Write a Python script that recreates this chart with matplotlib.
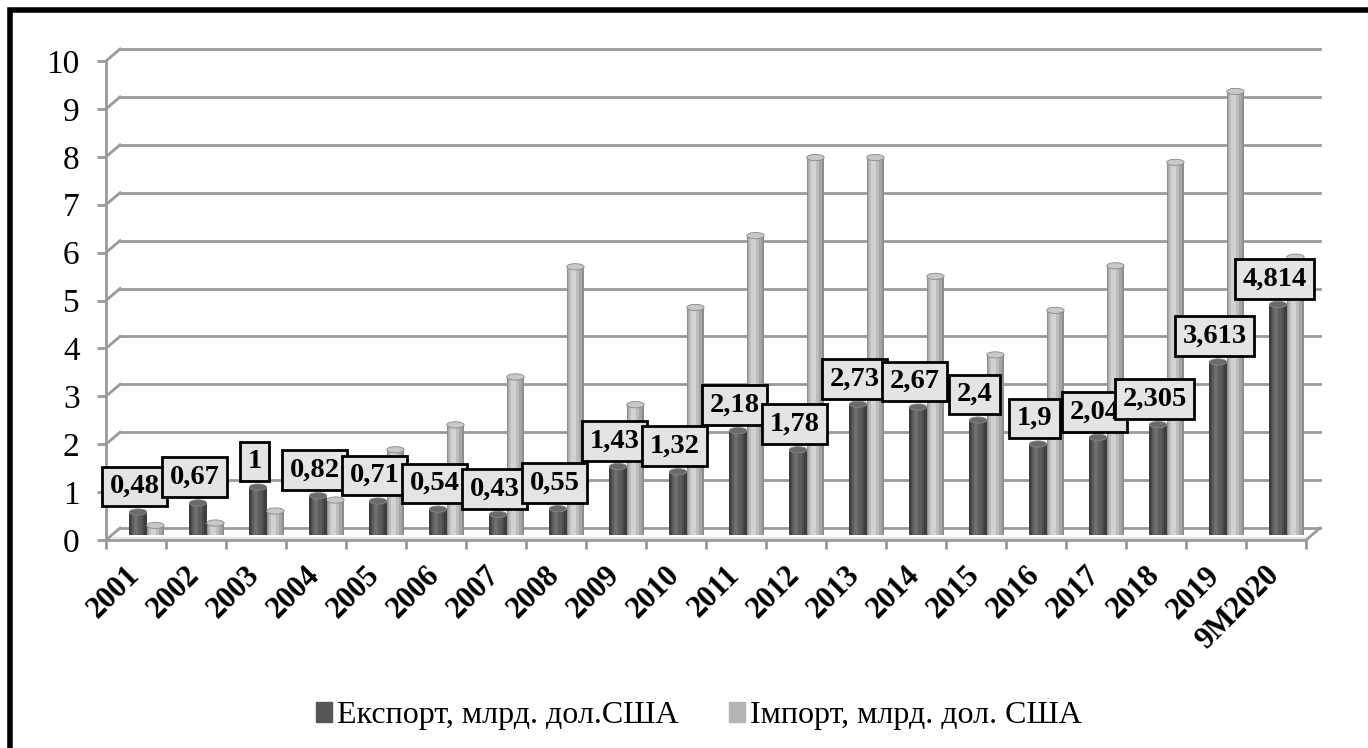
"""
Export / import chart (bln USD), 2001 - 9M2020, styled like an Excel 3D cylinder column chart.
"""
import matplotlib
matplotlib.use("Agg")
import matplotlib.pyplot as plt
import matplotlib.transforms as mtransforms
from matplotlib.patches import Patch, Ellipse, Rectangle

years = ["2001", "2002", "2003", "2004", "2005", "2006", "2007", "2008", "2009", "2010",
         "2011", "2012", "2013", "2014", "2015", "2016", "2017", "2018", "2019", "9M2020"]
export = [0.48, 0.67, 1, 0.82, 0.71, 0.54, 0.43, 0.55, 1.43, 1.32,
          2.18, 1.78, 2.73, 2.67, 2.4, 1.9, 2.04, 2.305, 3.613, 4.814]
imports = [0.2, 0.25, 0.5, 0.73, 1.78, 2.3, 3.3, 5.6, 2.72, 4.75,
           6.25, 7.88, 7.88, 5.4, 3.76, 4.69, 5.62, 7.78, 9.26, 5.8]
series_names = ["Експорт, млрд. дол.США", "Імпорт, млрд. дол. США"]

plt.rcParams["font.family"] = ["Liberation Serif", "DejaVu Serif"]

fig = plt.figure(figsize=(13.68, 7.48), dpi=100)
ax = fig.add_axes([106 / 1368, 208 / 748, 1200 / 1368, 479 / 748])
ax.set_xlim(-0.5, len(years) - 0.5)
ax.set_ylim(0, 10)

# 3D look: back wall is shifted right/up a little
ddx, ddy = 0.0117, 0.25
grid_c = "#9a9a9a"
yt = ax.get_yaxis_transform()
for y in range(0, 11):
    ax.plot([0, ddx], [y, y + ddy], color=grid_c, lw=2, transform=yt, clip_on=False)
    ax.plot([ddx, 1 + ddx], [y + ddy, y + ddy], color=grid_c, lw=2, transform=yt, clip_on=False)
ax.plot([1, 1 + ddx], [0, ddy], color=grid_c, lw=2, transform=yt, clip_on=False)
ax.fill_between([0, 1], [0, 0], [0.06, 0.06], color="#e6e6e6", transform=yt, zorder=1)

# bars as shaded cylinders, lifted to mid-depth
lift = ax.transData + mtransforms.ScaledTranslation(0.02, 0.05, fig.dpi_scale_trans)
w = 0.29
x = list(range(len(years)))
styles = [
    (export, 0.0, ["#3e3e3e", "#4b4b4b", "#5c5c5c", "#6e6e6e"], "#6a6a6a"),
    (imports, 0.29, ["#8e8e8e", "#a6a6a6", "#bdbdbd", "#d2d2d2"], "#c8c8c8"),
]
for vals, dx, shades, cap in styles:
    xs = [xi + dx for xi in x]
    for frac, col in zip([1.0, 0.8, 0.55, 0.25], shades):
        bars = ax.bar([xi - (1 - frac) * w * 0.15 for xi in xs], vals, width=w * frac,
                      color=col, linewidth=0, zorder=3)
        for p in bars:
            p.set_transform(lift)
    for xi, v in zip(xs, vals):
        e = Ellipse((xi, v), w, 0.13, facecolor=cap, edgecolor="#888888", lw=0.6,
                    zorder=4, transform=lift)
        ax.add_patch(e)

# data labels for export
for xi, v in zip(x, export):
    ax.annotate(f"{v:g}".replace(".", ","), (xi, v), xytext=(-1, 22),
                textcoords="offset points", ha="center", va="center",
                fontsize=20.5, fontweight="bold", zorder=6,
                bbox=dict(boxstyle="square,pad=0.26", fc="#e4e4e4", ec="black", lw=2))

for s in ["top", "right"]:
    ax.spines[s].set_visible(False)
for s in ["left", "bottom"]:
    ax.spines[s].set_color(grid_c)
    ax.spines[s].set_linewidth(2)

ax.set_yticks(range(0, 11))
ax.tick_params(axis="y", labelsize=24, color=grid_c, width=2, length=6.5, pad=12.5)
ax.set_xticks(x)
ax.set_xticklabels(years, rotation=45, ha="right", rotation_mode="anchor",
                   fontsize=22, fontweight="bold")
ax.tick_params(axis="x", which="major", length=0, pad=15)
ax.set_xticks([xi - 0.5 for xi in x] + [len(years) - 0.5], minor=True)
ax.tick_params(axis="x", which="minor", length=6.5, color=grid_c, width=2)
for lbl in ax.get_xticklabels():
    lbl.set_transform(lbl.get_transform() + mtransforms.ScaledTranslation(-0.11, 0, fig.dpi_scale_trans))

handles = [Patch(color="#555555"), Patch(color="#b5b5b5")]
fig.legend(handles, series_names, loc="center", bbox_to_anchor=(0.511, 1 - 716 / 748), ncol=2,
           frameon=False, fontsize=23, handlelength=0.5, handleheight=0.6,
           handletextpad=0.15, columnspacing=1.6)

# thick outer frame
fig.patches.append(Rectangle((10 / 1368, -0.1), 1.2, 1.1 - 10 / 748, transform=fig.transFigure,
                             fill=False, ec="black", lw=4))

fig.savefig("out.png", dpi=100)
